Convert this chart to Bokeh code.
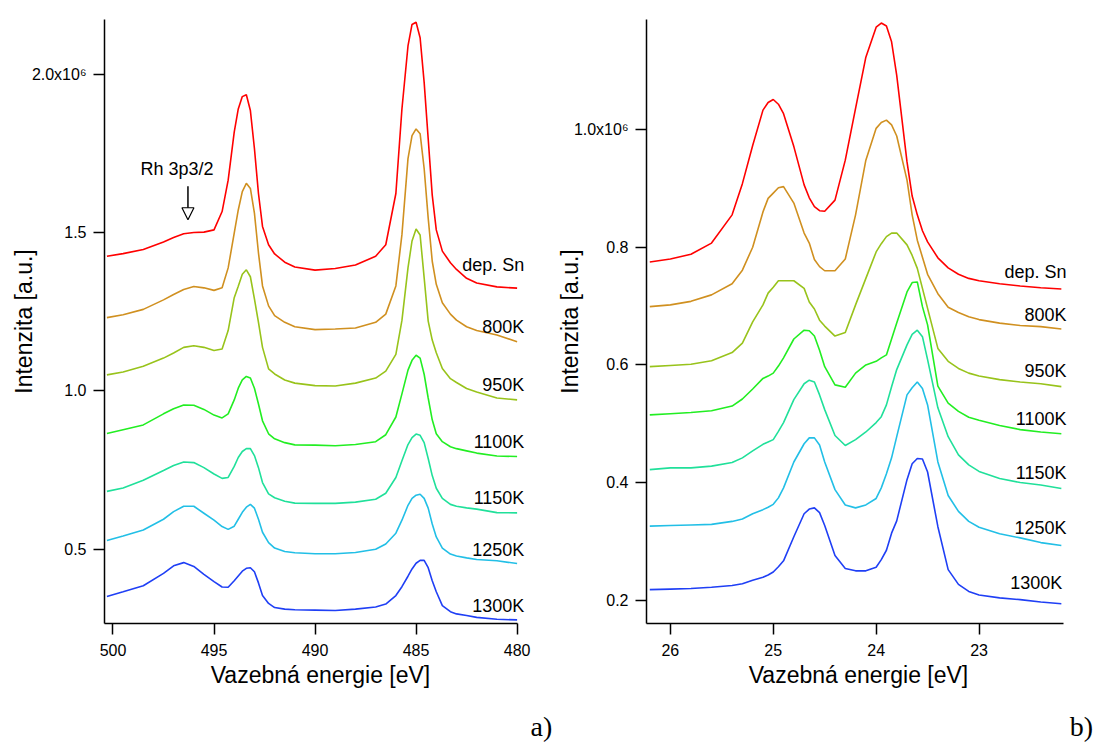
from bokeh.plotting import figure
from bokeh.layouts import row, column
from bokeh.models import Range1d, FixedTicker, Label, Arrow, NormalHead
from bokeh.embed import file_html
from bokeh.resources import INLINE

# ---------------- data (intensities in units of 10^6 counts) ----------------
series_names = ["dep. Sn", "800K", "950K", "1100K", "1150K", "1250K", "1300K"]
line_colors = ["#ff0000", "#d09020", "#98c31b", "#22ee22", "#20e09a", "#22bfe6", "#1f3ff5"]

# panel a) : Rh 3p3/2 / Sn 3d region
energy_a = [500.3, 499.5, 498.5, 497.5, 497.0, 496.5, 496.0, 495.5, 495.0, 494.6,
            494.3, 494.0, 493.8, 493.6, 493.4, 493.2, 493.0, 492.8, 492.6, 492.3,
            492.0, 491.5, 491.0, 490.0, 489.0, 488.0, 487.0, 486.5, 486.0, 485.7,
            485.4, 485.2, 485.0, 484.8, 484.6, 484.4, 484.2, 484.0, 483.7, 483.3,
            483.0, 482.5, 482.0, 481.0, 480.0]
a_dep_sn = [1.425, 1.433, 1.446, 1.470, 1.484, 1.496, 1.500, 1.501, 1.508, 1.566,
            1.665, 1.817, 1.890, 1.929, 1.935, 1.885, 1.765, 1.623, 1.519, 1.461,
            1.432, 1.406, 1.391, 1.381, 1.386, 1.397, 1.425, 1.461, 1.623, 1.890,
            2.089, 2.157, 2.164, 2.115, 1.974, 1.796, 1.618, 1.508, 1.441, 1.404,
            1.383, 1.355, 1.340, 1.328, 1.324]
a_800 = [1.231, 1.240, 1.257, 1.287, 1.304, 1.320, 1.329, 1.325, 1.317, 1.325,
         1.388, 1.498, 1.571, 1.629, 1.655, 1.639, 1.561, 1.435, 1.331, 1.268,
         1.237, 1.216, 1.202, 1.193, 1.195, 1.198, 1.216, 1.242, 1.331, 1.493,
         1.733, 1.806, 1.827, 1.812, 1.702, 1.545, 1.409, 1.336, 1.278, 1.242,
         1.223, 1.202, 1.190, 1.176, 1.155]
a_950 = [1.050, 1.059, 1.077, 1.103, 1.119, 1.137, 1.142, 1.137, 1.127, 1.132,
         1.190, 1.294, 1.330, 1.368, 1.382, 1.360, 1.290, 1.216, 1.137, 1.069,
         1.053, 1.034, 1.024, 1.016, 1.015, 1.024, 1.040, 1.062, 1.115, 1.222,
         1.388, 1.473, 1.511, 1.492, 1.357, 1.220, 1.160, 1.120, 1.070, 1.038,
         1.026, 1.007, 0.996, 0.977, 0.971]
a_1100 = [0.865, 0.877, 0.892, 0.927, 0.943, 0.955, 0.954, 0.941, 0.923, 0.914,
          0.927, 0.971, 1.008, 1.034, 1.045, 1.040, 1.008, 0.958, 0.905, 0.864,
          0.848, 0.836, 0.829, 0.828, 0.826, 0.830, 0.839, 0.861, 0.917, 0.990,
          1.065, 1.096, 1.112, 1.103, 1.052, 0.977, 0.908, 0.864, 0.839, 0.823,
          0.817, 0.810, 0.803, 0.794, 0.792]
a_1150 = [0.682, 0.693, 0.717, 0.748, 0.764, 0.775, 0.773, 0.757, 0.737, 0.723,
          0.726, 0.761, 0.789, 0.808, 0.817, 0.817, 0.795, 0.757, 0.710, 0.674,
          0.662, 0.651, 0.645, 0.644, 0.644, 0.648, 0.657, 0.676, 0.726, 0.779,
          0.830, 0.852, 0.863, 0.859, 0.836, 0.786, 0.732, 0.692, 0.660, 0.641,
          0.635, 0.630, 0.626, 0.615, 0.614]
a_1250 = [0.527, 0.541, 0.560, 0.594, 0.618, 0.635, 0.635, 0.613, 0.591, 0.571,
          0.562, 0.572, 0.594, 0.616, 0.632, 0.641, 0.629, 0.594, 0.553, 0.520,
          0.503, 0.492, 0.488, 0.485, 0.485, 0.489, 0.499, 0.516, 0.550, 0.591,
          0.638, 0.660, 0.670, 0.673, 0.660, 0.629, 0.579, 0.538, 0.503, 0.484,
          0.478, 0.472, 0.467, 0.463, 0.454]
a_1300 = [0.350, 0.365, 0.384, 0.423, 0.447, 0.457, 0.445, 0.420, 0.397, 0.380,
          0.379, 0.400, 0.415, 0.430, 0.439, 0.441, 0.428, 0.393, 0.353, 0.328,
          0.315, 0.310, 0.308, 0.307, 0.306, 0.310, 0.317, 0.326, 0.353, 0.381,
          0.414, 0.437, 0.455, 0.464, 0.464, 0.441, 0.400, 0.365, 0.321, 0.302,
          0.295, 0.290, 0.284, 0.278, 0.276]

# panel b) : Sn 4d region
energy_b = [26.2, 26.0, 25.8, 25.6, 25.4, 25.3, 25.2, 25.1, 25.05, 25.0,
            24.95, 24.9, 24.8, 24.7, 24.65, 24.6, 24.55, 24.5, 24.4, 24.3,
            24.2, 24.1, 24.0, 23.95, 23.9, 23.85, 23.8, 23.7, 23.65, 23.6,
            23.55, 23.5, 23.4, 23.3, 23.2, 23.1, 23.0, 22.8, 22.6, 22.4, 22.2]
b_dep_sn = [0.775, 0.780, 0.788, 0.807, 0.855, 0.908, 0.973, 1.033, 1.046, 1.051,
            1.043, 1.027, 0.971, 0.906, 0.884, 0.869, 0.862, 0.861, 0.880, 0.948,
            1.036, 1.123, 1.174, 1.181, 1.176, 1.149, 1.092, 0.945, 0.887, 0.855,
            0.828, 0.809, 0.782, 0.765, 0.754, 0.747, 0.743, 0.738, 0.734, 0.731, 0.729]
b_800 = [0.699, 0.702, 0.708, 0.719, 0.738, 0.761, 0.800, 0.860, 0.883, 0.892,
         0.901, 0.903, 0.875, 0.824, 0.807, 0.779, 0.767, 0.760, 0.760, 0.780,
         0.855, 0.948, 1.002, 1.012, 1.016, 1.008, 0.989, 0.914, 0.855, 0.812,
         0.783, 0.754, 0.721, 0.698, 0.689, 0.682, 0.677, 0.671, 0.667, 0.665, 0.661]
b_950 = [0.597, 0.599, 0.601, 0.607, 0.621, 0.637, 0.673, 0.702, 0.722, 0.732,
         0.743, 0.743, 0.743, 0.730, 0.707, 0.695, 0.676, 0.666, 0.649, 0.655,
         0.702, 0.747, 0.792, 0.806, 0.818, 0.824, 0.824, 0.804, 0.786, 0.764,
         0.730, 0.696, 0.628, 0.606, 0.594, 0.586, 0.581, 0.575, 0.571, 0.568, 0.563]
b_1100 = [0.515, 0.517, 0.519, 0.522, 0.530, 0.542, 0.559, 0.577, 0.581, 0.586,
          0.598, 0.612, 0.644, 0.659, 0.658, 0.649, 0.625, 0.597, 0.566, 0.562,
          0.586, 0.600, 0.606, 0.612, 0.617, 0.644, 0.671, 0.724, 0.740, 0.741,
          0.699, 0.668, 0.564, 0.535, 0.521, 0.511, 0.506, 0.497, 0.490, 0.486, 0.483]
b_1150 = [0.422, 0.425, 0.425, 0.428, 0.434, 0.442, 0.454, 0.465, 0.469, 0.473,
          0.487, 0.502, 0.541, 0.568, 0.574, 0.571, 0.549, 0.524, 0.480, 0.463,
          0.473, 0.486, 0.502, 0.512, 0.532, 0.563, 0.592, 0.634, 0.652, 0.659,
          0.648, 0.609, 0.527, 0.478, 0.447, 0.430, 0.419, 0.407, 0.400, 0.396, 0.390]
b_1250 = [0.326, 0.327, 0.328, 0.329, 0.334, 0.338, 0.347, 0.354, 0.358, 0.363,
          0.374, 0.391, 0.435, 0.466, 0.476, 0.476, 0.464, 0.435, 0.388, 0.362,
          0.357, 0.362, 0.373, 0.391, 0.415, 0.442, 0.478, 0.549, 0.561, 0.571,
          0.560, 0.532, 0.435, 0.378, 0.351, 0.334, 0.324, 0.313, 0.306, 0.298, 0.293]
b_1300 = [0.218, 0.219, 0.220, 0.222, 0.225, 0.228, 0.234, 0.239, 0.243, 0.248,
          0.257, 0.267, 0.308, 0.347, 0.355, 0.357, 0.349, 0.327, 0.276, 0.254,
          0.250, 0.250, 0.256, 0.269, 0.285, 0.314, 0.335, 0.405, 0.432, 0.441,
          0.440, 0.418, 0.325, 0.252, 0.227, 0.215, 0.209, 0.204, 0.201, 0.197, 0.194]

# label anchor intensities (10^6) for the series names
label_y_a = [1.397, 1.200, 1.019, 0.839, 0.661, 0.496, 0.319]
label_y_b = [0.758, 0.685, 0.589, 0.508, 0.417, 0.323, 0.230]

ticks_x_a = [500, 495, 490, 485, 480]
ticks_y_a = [0.5, 1.0, 1.5, 2.0]
tick_labels_y_a = ["0.5", "1.0", "1.5", "2.0x10\u2076"]
ticks_x_b = [26, 25, 24, 23]
ticks_y_b = [0.2, 0.4, 0.6, 0.8, 1.0]
tick_labels_y_b = ["0.2", "0.4", "0.6", "0.8", "1.0x10\u2076"]

UNIT = 1e6
SANS = "Liberation Sans"
SERIF = "Liberation Serif"


def style(p, xt, yt, ylabels, xbounds, ybounds, title_standoff):
    p.xgrid.grid_line_color = None
    p.ygrid.grid_line_color = None
    p.outline_line_color = None
    p.background_fill_color = "white"
    p.border_fill_color = "white"
    p.xaxis.ticker = FixedTicker(ticks=xt, minor_ticks=[])
    p.yaxis.ticker = FixedTicker(ticks=[v * UNIT for v in yt], minor_ticks=[])
    p.yaxis.major_label_overrides = {v * UNIT: s for v, s in zip(yt, ylabels)}
    p.xaxis.bounds = xbounds
    p.yaxis.bounds = (ybounds[0] * UNIT, ybounds[1] * UNIT)
    for ax in (p.xaxis, p.yaxis):
        ax.axis_line_width = 1.5
        ax.axis_line_color = "black"
        ax.major_tick_line_width = 1.5
        ax.major_tick_line_color = "black"
        ax.major_tick_in = 0
        ax.major_tick_out = 11
        ax.minor_tick_in = 0
        ax.minor_tick_out = 0
        ax.major_label_text_font = SANS
        ax.major_label_text_font_size = "16px"
        ax.major_label_text_color = "black"
        ax.axis_label_text_font = SANS
        ax.axis_label_text_font_size = "23px"
        ax.axis_label_text_font_style = "normal"
        ax.axis_label_text_color = "black"
    p.xaxis.major_label_standoff = 9
    p.yaxis.major_label_standoff = 7
    p.xaxis.axis_label = "Vazebn\u00e1 energie [eV]"
    p.yaxis.axis_label = "Intenzita [a.u.]"
    p.xaxis.axis_label_standoff = 3
    p.yaxis.axis_label_standoff = title_standoff


# ---------------- panel a ----------------
ya = (0.2647, 2.1726)
pa = figure(width=553, height=705, output_backend="svg", toolbar_location=None,
            x_range=Range1d(500.42, 479.04), y_range=Range1d(ya[0] * UNIT, ya[1] * UNIT),
            min_border_left=104, min_border_right=17, min_border_top=15, min_border_bottom=82)
style(pa, ticks_x_a, ticks_y_a, tick_labels_y_a, (480.0, 500.42), ya, -8)

series_a = [a_dep_sn, a_800, a_950, a_1100, a_1150, a_1250, a_1300]
for name, col, ys, ly in zip(series_names, line_colors, series_a, label_y_a):
    pa.line(energy_a, [v * UNIT for v in ys], line_color=col, line_width=1.6)
    pa.add_layout(Label(x=479.64, y=ly * UNIT, text=name, text_align="right",
                        text_baseline="middle", text_font=SANS, text_font_size="18px",
                        text_color="black"))

pa.add_layout(Label(x=496.83, y=1.699 * UNIT, text="Rh 3p3/2", text_align="center",
                    text_baseline="middle", text_font=SANS, text_font_size="18px",
                    text_color="black"))
pa.add_layout(Arrow(x_start=496.29, y_start=1.646 * UNIT, x_end=496.29, y_end=1.540 * UNIT,
                    line_width=1.5, line_color="black",
                    end=NormalHead(size=12, fill_color="white", line_color="black",
                                   line_width=1.2)))

# ---------------- panel b ----------------
yb = (0.1605, 1.187)
pb = figure(width=546, height=705, output_backend="svg", toolbar_location=None,
            x_range=Range1d(26.232, 22.111), y_range=Range1d(yb[0] * UNIT, yb[1] * UNIT),
            min_border_left=91, min_border_right=29, min_border_top=19, min_border_bottom=81)
style(pb, ticks_x_b, ticks_y_b, tick_labels_y_b, (22.18, 26.232), yb, -12)

series_b = [b_dep_sn, b_800, b_950, b_1100, b_1150, b_1250, b_1300]
for name, col, ys, ly in zip(series_names, line_colors, series_b, label_y_b):
    pb.line(energy_b, [v * UNIT for v in ys], line_color=col, line_width=1.6)
    pb.add_layout(Label(x=22.15 if name != "1300K" else 22.19, y=ly * UNIT, text=name,
                        text_align="right", text_baseline="middle", text_font=SANS,
                        text_font_size="18px", text_color="black"))

# ---------------- strip with the panel letters ----------------
strip = figure(width=1099, height=40, output_backend="svg", toolbar_location=None,
               x_range=Range1d(0, 1099), y_range=Range1d(0, 40),
               x_axis_type=None, y_axis_type=None, min_border=0)
strip.xgrid.grid_line_color = None
strip.ygrid.grid_line_color = None
strip.outline_line_color = None
for txt, xc in (("a)", 541), ("b)", 1081)):
    strip.add_layout(Label(x=xc, y=19, text=txt, text_align="center",
                           text_baseline="alphabetic", text_font=SERIF,
                           text_font_size="28px", text_color="black"))

layout = column(row(pa, pb, spacing=0), strip, spacing=0)
open("out.html", "w").write(file_html(layout, INLINE))
